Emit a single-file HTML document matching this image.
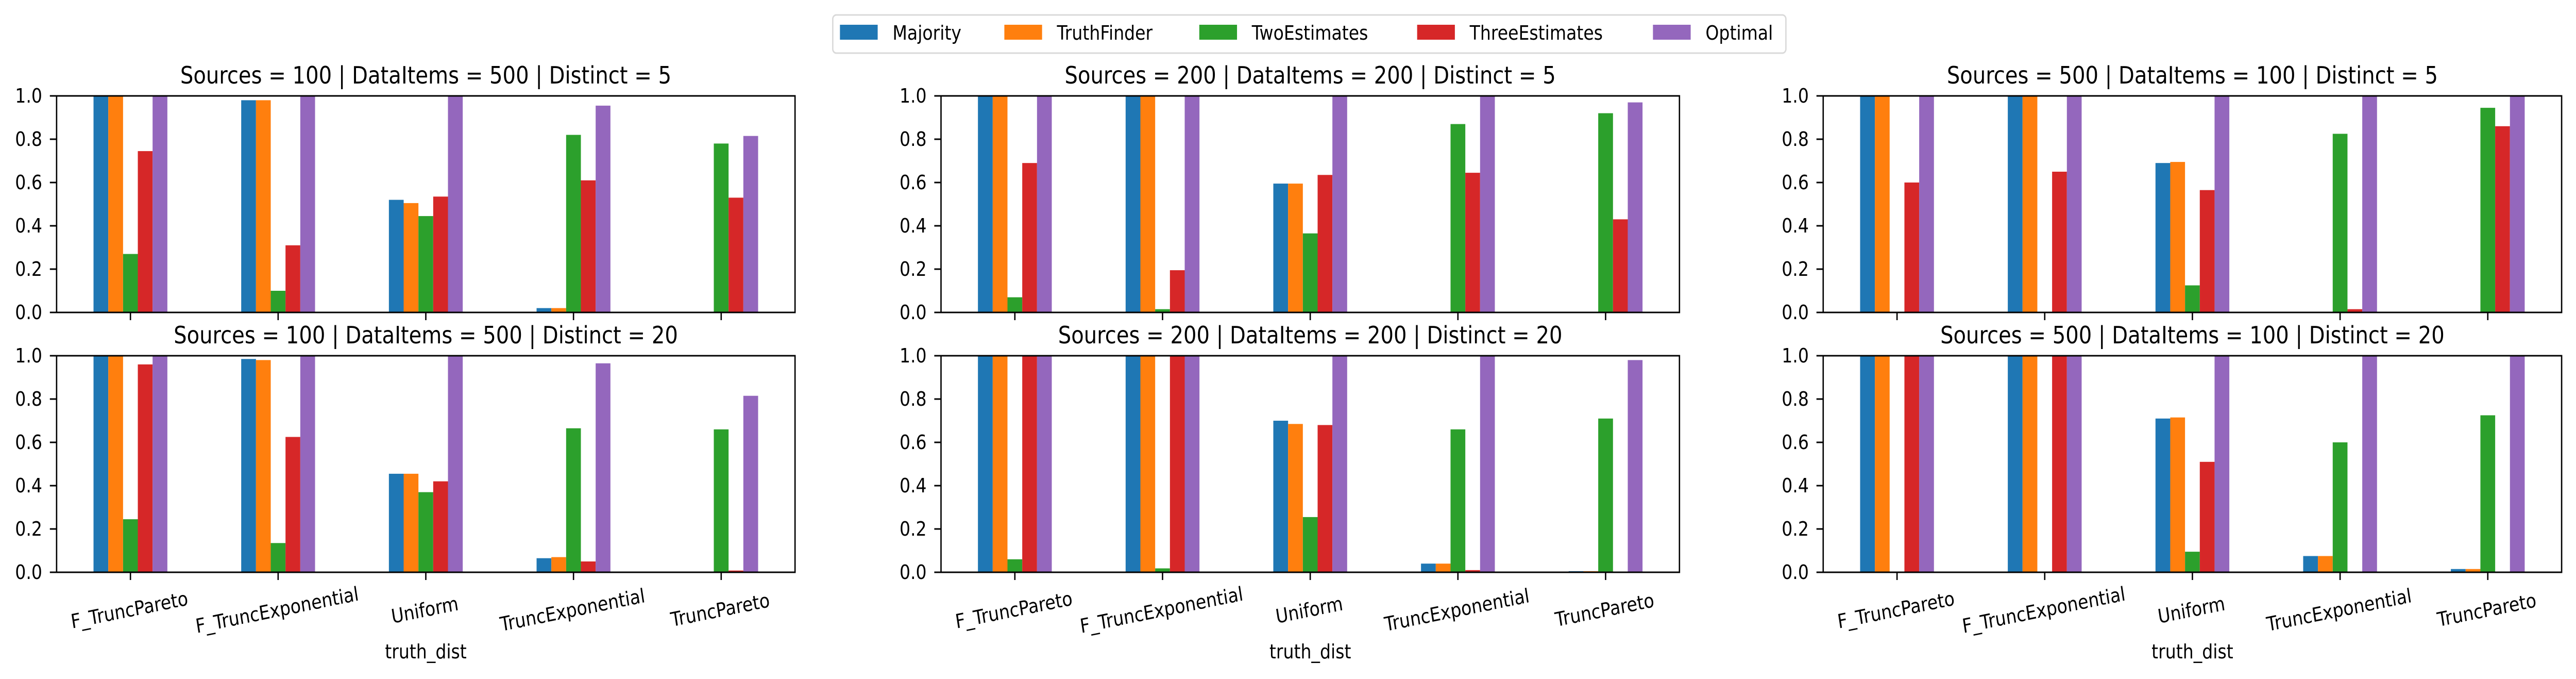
<!DOCTYPE html>
<html><head><meta charset="utf-8"><style>
html,body{margin:0;padding:0;background:#fff;width:100%;height:100%;overflow:hidden;}
svg{display:block;width:100vw;height:100vh;}
text{font-family:"DejaVu Sans","Liberation Sans",sans-serif;fill:#000;}
</style></head><body>
<svg id="chart" viewBox="0 0 5735 1317" preserveAspectRatio="none" xmlns="http://www.w3.org/2000/svg"></svg>
<script>
const categories = ["F_TruncPareto","F_TruncExponential","Uniform","TruncExponential","TruncPareto"];
const seriesNames = ["Majority","TruthFinder","TwoEstimates","ThreeEstimates","Optimal"];
const seriesColors = ["#1f77b4","#ff7f0e","#2ca02c","#d62728","#9467bd"];
const yTicks = [0,0.2,0.4,0.6,0.8,1.0];
const yTickLabels = ["0.0","0.2","0.4","0.6","0.8","1.0"];
const panelTitles = [
 "Sources = 100 | DataItems = 500 | Distinct = 5",
 "Sources = 200 | DataItems = 200 | Distinct = 5",
 "Sources = 500 | DataItems = 100 | Distinct = 5",
 "Sources = 100 | DataItems = 500 | Distinct = 20",
 "Sources = 200 | DataItems = 200 | Distinct = 20",
 "Sources = 500 | DataItems = 100 | Distinct = 20"
];
// values[panel][category][series]
const p1top = [[1,1,0.27,0.745,1],[0.98,0.98,0.10,0.31,1],[0.52,0.505,0.445,0.535,1],[0.02,0.02,0.82,0.61,0.955],[0,0,0.78,0.53,0.815]];
const p2top = [[1,1,0.07,0.69,1],[1,1,0.015,0.195,1],[0.595,0.595,0.365,0.635,1],[0.003,0.002,0.87,0.645,1],[0,0,0.92,0.43,0.97]];
const p3top = [[1,1,0,0.60,1],[1,1,0,0.65,1],[0.69,0.695,0.125,0.565,1],[0,0,0.825,0.015,1],[0,0,0.945,0.86,1]];
const p1bot = [[1,1,0.245,0.96,1],[0.985,0.98,0.135,0.625,1],[0.455,0.455,0.37,0.42,1],[0.065,0.07,0.665,0.05,0.965],[0.003,0.002,0.66,0.008,0.815]];
const p2bot = [[1,1,0.06,1,1],[1,1,0.018,1,1],[0.70,0.685,0.255,0.68,1],[0.04,0.04,0.66,0.01,1],[0.005,0.005,0.71,0,0.98]];
const p3bot = [[1,1,0,1,1],[1,1,0,1,1],[0.71,0.715,0.095,0.51,1],[0.075,0.075,0.60,0,1],[0.015,0.015,0.725,0,1]];
const panelValues = [p1top,p2top,p3top,p1bot,p2bot,p3bot];

const NS="http://www.w3.org/2000/svg";
const svg=document.getElementById('chart');
function mk(tag,attrs,parent){const e=document.createElementNS(NS,tag);for(const k in attrs)e.setAttribute(k,attrs[k]);(parent||svg).appendChild(e);return e;}

const colLeft=[126,2095,4059], axW=1644;
const rowTop=[186,690], axH=420;

panelValues.forEach((vals,pi)=>{
  const col=pi%3,row=Math.floor(pi/3);
  const L=colLeft[col],T=rowTop[row],B=T+axH;
  const g=mk('g',{});
  
  
  const xs=v=>L+(v+0.5)/5*axW;
  const ys=v=>B-Math.min(Math.max(v,0),1)*axH;
  vals.forEach((grp,ci)=>{
    grp.forEach((v,si)=>{
      const x0=xs(ci-0.25+si*0.1), x1=xs(ci-0.25+(si+1)*0.1);
      const r=mk('rect',{x:x0,y:ys(v),width:x1-x0,height:B-ys(v),fill:seriesColors[si]},g);
      
      
    });
  });
  const fr=mk('rect',{x:L,y:T,width:axW,height:axH,fill:'none',stroke:'#000','stroke-width':3},g);
  
  
  yTicks.forEach((t,i)=>{
    mk('line',{x1:L-15,x2:L,y1:ys(t),y2:ys(t),stroke:'#000','stroke-width':3},g);
    const tl=mk('text',{x:L-32,y:ys(t)+13,'text-anchor':'end','font-size':38},g);
    tl.textContent=yTickLabels[i];
    
    
  });
  categories.forEach((c,ci)=>{
    const x=xs(ci);
    mk('line',{x1:x,x2:x,y1:B,y2:B+15,stroke:'#000','stroke-width':3},g);
    if(row===1){
      const tl=mk('text',{x:0,y:0,'text-anchor':'middle','font-size':38,transform:'translate('+x+',1196) rotate(-10)'},g);
      tl.textContent=c;
      
      
    }
  });
  const tt=mk('text',{x:L+axW/2,y:T-24,'text-anchor':'middle','font-size':46},g);
  tt.textContent=panelTitles[pi];
  
  
  if(row===1){
    const xl=mk('text',{x:L+axW/2,y:1277,'text-anchor':'middle','font-size':38},g);
    xl.textContent='truth_dist';
    
    
  }
});

// legend
const lg=mk('g',{});


mk('rect',{x:1854,y:29,width:2122,height:74,rx:8,fill:'#fff',stroke:'#d9d9d9','stroke-width':3},lg);
const legendX=[1870,2236,2670,3155,3680];
seriesNames.forEach((n,i)=>{
  const e=mk('g',{},lg);
  
  
  mk('rect',{x:legendX[i],y:48,width:84,height:29,fill:seriesColors[i]},e);
  const t=mk('text',{x:legendX[i]+117,y:77,'font-size':38},e);
  t.textContent=n;
});
</script>
</body></html>
